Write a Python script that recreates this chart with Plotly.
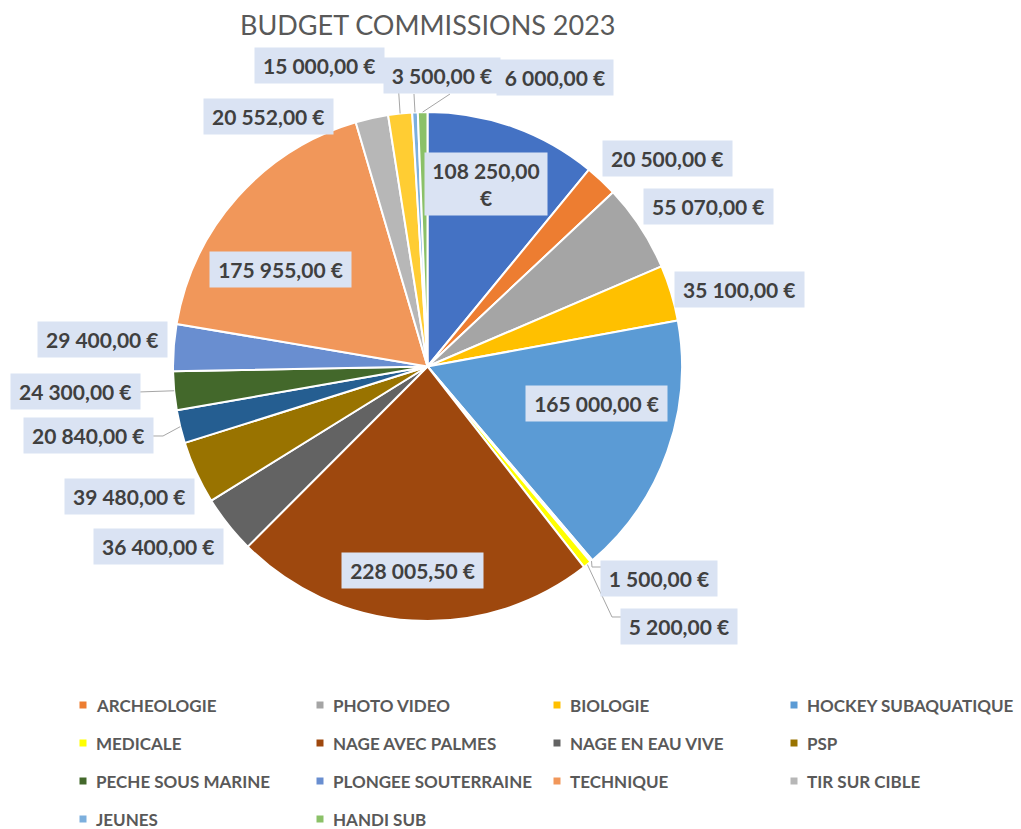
import math
import plotly.graph_objects as go

# ---------------- data ----------------
title_text = "BUDGET COMMISSIONS 2023"
values = [108250, 20500, 55070, 35100, 165000, 1500, 5200, 228005.5, 36400,
          39480, 20840, 24300, 29400, 175955, 20552, 15000, 3500, 6000]
categories = ["", "ARCHEOLOGIE", "PHOTO VIDEO", "BIOLOGIE", "HOCKEY SUBAQUATIQUE",
              "", "MEDICALE", "NAGE AVEC PALMES", "NAGE EN EAU VIVE", "PSP", "",
              "PECHE SOUS MARINE", "PLONGEE SOUTERRAINE", "TECHNIQUE",
              "TIR SUR CIBLE", "", "JEUNES", "HANDI SUB"]
colors = ["#4472C4", "#ED7D31", "#A5A5A5", "#FFC000", "#5B9BD5", "#FFFFFF",
          "#FFFF00", "#9E480E", "#636363", "#997300", "#255E91", "#43682B",
          "#698ED0", "#F1975A", "#B7B7B7", "#FFCD33", "#7CAFDD", "#8BC168"]

# ---------------- layout / style ----------------
W, H = 1021, 829
CX, CY, R = 427.5, 366.5, 254.5
FONT = "Lato"
TXT = "#404040"
GREY = "#595959"
BOX = "#DAE3F3"
LEADER = "#A6A6A6"

# label box centres (pixels) and wrapping
label_pos = [(486, 184), (667, 158), (708, 206), (739, 290), (596, 404),
             (659, 578), (679, 626), (412, 570), (158, 546), (129, 496),
             (88, 435), (75, 392), (102, 339), (280, 269.5), (268, 117),
             (319, 66), (442, 76), (555, 78)]
wrap = {0}
leaders = {5: [(592, 567), (601, 567)], 6: [(612, 617), (621, 617)],
           10: [(163, 436), (152, 436)], 11: [(138, 392)],
           15: [(397, 66), (383, 66)], 16: [(414, 94)], 17: [(450, 94)]}


def px(x):
    return x / W


def py(y):
    return 1 - y / H


def fmt(v):
    s = f"{v:,.2f}".replace(",", " ").replace(".", ",")
    return s + " €"


total = sum(values)
pie_labels = [c if c else f"#{i + 1}" for i, c in enumerate(categories)]

fig = go.Figure()
fig.add_trace(go.Pie(
    labels=pie_labels, values=values, sort=False, direction="clockwise",
    rotation=0, textinfo="none", hoverinfo="label+value",
    marker=dict(colors=colors, line=dict(color="white", width=2)),
    domain=dict(x=[px(CX - R), px(CX + R)], y=[py(CY + R), py(CY - R)]),
    showlegend=False,
))

annotations = []
shapes = []

# data labels
cum = 0.0
for i, v in enumerate(values):
    mid = (cum + v / 2) / total * 2 * math.pi
    cum += v
    text = fmt(v)
    lx, ly = label_pos[i]
    if i in wrap:
        k = text.rfind(" ")
        text = text[:k] + "<br>" + text[k + 1:]
        width = 112
    else:
        width = 12.5 * len(text) - 19
    annotations.append(dict(
        x=px(lx), y=py(ly), xref="paper", yref="paper", text=text,
        showarrow=False, xanchor="center", yanchor="middle",
        bgcolor=BOX, borderpad=5, width=width,
        font=dict(family=FONT, size=21, color=TXT, weight="bold"),
    ))
    if i in leaders:
        sx = CX + R * math.sin(mid)
        sy = CY - R * math.cos(mid)
        pts = [(sx, sy)] + leaders[i]
        path = "M " + " L ".join(f"{px(a):.5f},{py(b):.5f}" for a, b in pts)
        shapes.append(dict(type="path", path=path, xref="paper", yref="paper",
                           line=dict(color=LEADER, width=1), layer="above"))

# legend (manual, Excel-like grid)
k = 0
for name, col in zip(categories, colors):
    if not name:
        continue
    row, c = divmod(k, 4)
    mx = 83 + c * 237
    my = 705 + row * 38
    shapes.append(dict(type="rect", xref="paper", yref="paper",
                       x0=px(mx - 3.5), x1=px(mx + 3.5),
                       y0=py(my + 3.5), y1=py(my - 3.5),
                       fillcolor=col, line=dict(width=0)))
    annotations.append(dict(
        x=px(mx + 11), y=py(my), xref="paper", yref="paper", text=name,
        showarrow=False, xanchor="left", yanchor="middle",
        font=dict(family=FONT, size=17, color=GREY, weight="bold"),
    ))
    k += 1

# title
annotations.append(dict(
    x=px(427), y=py(24), xref="paper", yref="paper", text=title_text,
    showarrow=False, xanchor="center", yanchor="middle",
    font=dict(family=FONT, size=27, color=GREY),
))

fig.update_layout(
    width=W, height=H, margin=dict(l=0, r=0, t=0, b=0),
    paper_bgcolor="white", plot_bgcolor="white",
    annotations=annotations, shapes=shapes,
    xaxis=dict(visible=False), yaxis=dict(visible=False),
)

fig.write_html(
    "out.html", config={"displayModeBar": False},
    post_script="document.body.style.margin='0';document.body.style.overflow='hidden';",
)
